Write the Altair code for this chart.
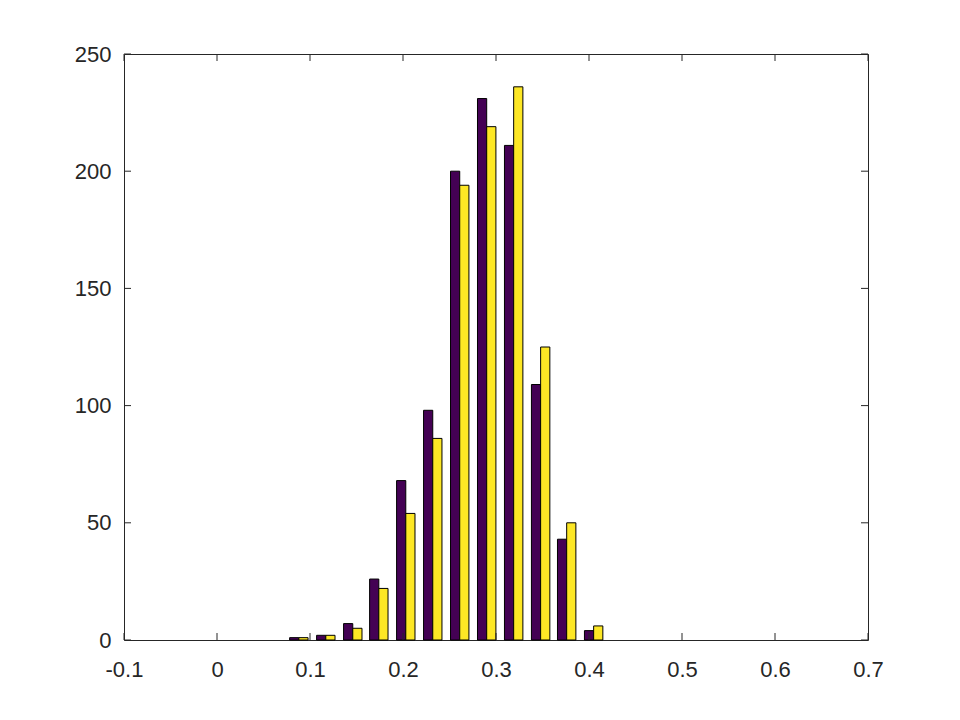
import altair as alt
import pandas as pd

# bin centres of the grouped histogram
centers = [0.088, 0.117, 0.146, 0.174, 0.203, 0.232, 0.261, 0.290, 0.319, 0.348, 0.376, 0.405]
series_a = [1, 2, 7, 26, 68, 98, 200, 231, 211, 109, 43, 4]
series_b = [1, 2, 5, 22, 54, 86, 194, 219, 236, 125, 50, 6]
series_names = ["A", "B"]
series_colors = ["#440154", "#FDE725"]
bar_half = 0.0099

x_ticks = [-0.1, 0.0, 0.1, 0.2, 0.3, 0.4, 0.5, 0.6, 0.7]
y_ticks = [0, 50, 100, 150, 200, 250]

W, H = 744, 586
ink = "#262626"
font = "Liberation Sans"
fs = 22

rows = []
for c, a, b in zip(centers, series_a, series_b):
    rows.append({"center": c, "series": "A", "count": a, "side": -1})
    rows.append({"center": c, "series": "B", "count": b, "side": 0})
df = pd.DataFrame(rows)

xscale = alt.Scale(domain=[-0.1, 0.7], nice=False, zero=False)
yscale = alt.Scale(domain=[0, 250], nice=False)

bars = alt.Chart(df).transform_calculate(
    x0=f"datum.center + datum.side * {bar_half}",
    x1=f"datum.center + (datum.side + 1) * {bar_half}",
).mark_bar(stroke="black", strokeWidth=1, opacity=1).encode(
    x=alt.X("x0:Q", scale=xscale, axis=alt.Axis(
        values=x_ticks, title=None, grid=False, domain=False, ticks=False,
        labelFontSize=fs, labelFont=font, labelColor=ink, labelPadding=19,
        labelFlush=False, labelOverlap=False,
        labelExpr="toString(round(datum.value*10)/10)")),
    x2="x1:Q",
    y=alt.Y("count:Q", scale=yscale, axis=alt.Axis(
        values=y_ticks, title=None, grid=False, domain=False, ticks=False,
        labelFontSize=fs, labelFont=font, labelColor=ink, labelPadding=13,
        labelFlush=False, labelOverlap=False)),
    y2=alt.datum(0),
    color=alt.Color("series:N", scale=alt.Scale(domain=series_names, range=series_colors), legend=None),
)

xt = pd.DataFrame({"v": x_ticks})
yt = pd.DataFrame({"v": y_ticks})
tick_len = 7

xb = alt.Chart(xt).mark_rule(color=ink, strokeWidth=1).encode(
    x=alt.X("v:Q", scale=xscale), y=alt.value(H), y2=alt.value(H - tick_len))
xtop = alt.Chart(xt).mark_rule(color=ink, strokeWidth=1).encode(
    x=alt.X("v:Q", scale=xscale), y=alt.value(0), y2=alt.value(tick_len))
yl = alt.Chart(yt).mark_rule(color=ink, strokeWidth=1).encode(
    y=alt.Y("v:Q", scale=yscale), x=alt.value(0), x2=alt.value(tick_len))
yr = alt.Chart(yt).mark_rule(color=ink, strokeWidth=1).encode(
    y=alt.Y("v:Q", scale=yscale), x=alt.value(W), x2=alt.value(W - tick_len))

chart = alt.layer(bars, xb, xtop, yl, yr).properties(
    width=W, height=H,
    autosize=alt.AutoSizeParams(type="none"),
    padding={"left": 116, "top": 46, "right": 60, "bottom": 60},
).configure(
    background="white",
    view=alt.ViewConfig(stroke=ink, strokeWidth=1),
)

chart.save("out.html", embed_options={"renderer": "svg", "actions": False})
